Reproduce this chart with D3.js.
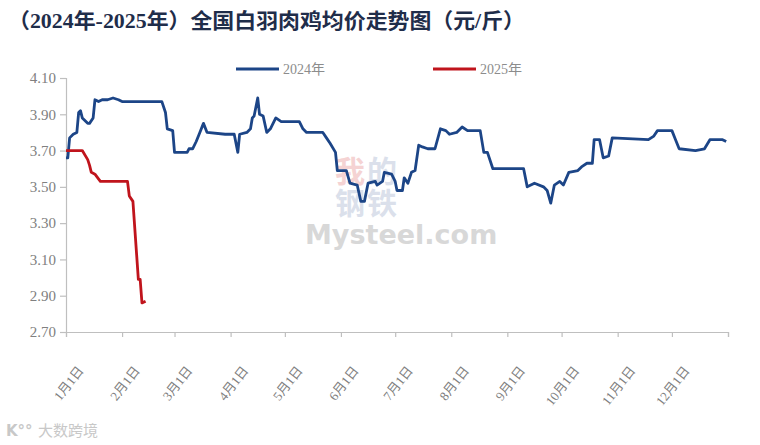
<!DOCTYPE html>
<html>
<head>
<meta charset="utf-8">
<script src="https://cdn.jsdelivr.net/npm/d3@7"></script>
<style>
body{margin:0;background:#fff;}
svg{display:block;}
</style>
</head>
<body>
<script>
// 2024 series, month-day + price (元/斤)
var days2024 = ['01-01','01-02','01-03','01-05','01-07','01-08','01-09','01-10','01-13','01-14','01-16','01-17','01-19','01-21','01-24','01-27','01-30',
	'02-01','02-23','02-25','02-26','02-29','03-01','03-08','03-09','03-11','03-13','03-15','03-17','03-19','03-29','04-03','04-05','04-06','04-10','04-12','04-13','04-14','04-16','04-17','04-19','04-21','04-23','04-26','04-29',
	'05-09','05-11','05-13','05-22','05-24','05-26','05-29','05-30','06-04','06-06','06-10','06-12','06-14','06-16','06-20','06-21','06-24','06-25','06-29',
	'07-01','07-02','07-05','07-06','07-08','07-10','07-12','07-14','07-16','07-19','07-23','07-26','07-29','07-31','08-04','08-07','08-10','08-17','08-19','08-21','08-24',
	'09-10','09-12','09-16','09-21','09-23','09-25','09-27','09-30','10-02','10-05','10-10','10-12','10-15','10-18','10-19','10-22','10-24','10-27','10-29',
	'11-18','11-21','11-23','12-01','12-03','12-05','12-14','12-19','12-22','12-29','12-31'];
var price2024 = [3.66,3.66,3.77,3.79,3.80,3.91,3.92,3.88,3.85,3.85,3.88,3.98,3.97,3.98,3.98,3.99,3.98,
	3.97,3.97,3.91,3.82,3.81,3.69,3.69,3.71,3.71,3.75,3.80,3.85,3.80,3.79,3.79,3.69,3.79,3.80,3.82,3.88,3.89,3.99,3.90,3.89,3.80,3.82,3.88,3.86,
	3.86,3.82,3.80,3.80,3.77,3.74,3.69,3.59,3.59,3.52,3.51,3.42,3.42,3.52,3.53,3.51,3.53,3.58,3.57,
	3.53,3.48,3.48,3.55,3.52,3.58,3.59,3.73,3.72,3.71,3.71,3.82,3.81,3.79,3.80,3.83,3.81,3.81,3.69,3.69,3.60,
	3.60,3.50,3.52,3.50,3.48,3.41,3.51,3.53,3.51,3.58,3.59,3.61,3.63,3.63,3.76,3.76,3.66,3.67,3.77,
	3.76,3.78,3.81,3.81,3.76,3.71,3.70,3.71,3.76,3.76,3.75];

// 2025 series
var days2025 = ['01-01','01-10','01-13','01-14','01-15','01-17','01-20','02-04','02-05','02-07','02-10','02-11','02-12','02-14'];
var price2025 = [3.70,3.70,3.65,3.62,3.58,3.57,3.53,3.53,3.45,3.42,2.99,2.99,2.86,2.87];

var yTicks = [2.70,2.90,3.10,3.30,3.50,3.70,3.90,4.10];
var seriesNames = ['2024年','2025年'];
var title = '（2024年-2025年）全国白羽肉鸡均价走势图（元/斤）';

var width = 760, height = 445;
var margin = {left:66, right:32, top:78, bottom:113};
var colors = ['#1c4587','#c0141c'];
var serif = '"Liberation Serif","Noto Sans CJK SC",serif';

var parseDay = d3.timeParse('%Y-%m-%d');
var toPoints = (days, vals) => days.map((d,i)=>({date: parseDay('2024-'+d), value: vals[i]}));
var series = [toPoints(days2024, price2024), toPoints(days2025, price2025)];

var x = d3.scaleTime()
	.domain([parseDay('2024-01-01'), parseDay('2025-01-01')])
	.range([margin.left, width - margin.right]);

var y = d3.scaleLinear()
	.domain([2.7, 4.1])
	.range([height - margin.bottom, margin.top]);

var svg = d3.select('body').append('svg').attr('width',width).attr('height',height);

// watermarks
var wm = svg.append('g').attr('opacity',0.3);
[['我',350,182,'#e07070'],['的',382,182,'#8a9cc0'],['钢',350,214,'#8a9cc0'],['铁',382,214,'#8a9cc0']].forEach(c=>{
	wm.append('text').attr('x',c[1]).attr('y',c[2]).attr('text-anchor','middle')
		.style('font-family',serif).style('font-size','30px').style('font-weight','bold')
		.attr('fill',c[3]).text(c[0]);
});
svg.append('text').attr('x',305).attr('y',244)
	.style('font-family','"DejaVu Sans",sans-serif').style('font-size','27px').style('font-weight','bold')
	.attr('fill','#d8d8d8').text('Mysteel.com');
svg.append('text').attr('x',38).attr('y',436)
	.style('font-family','"Noto Sans CJK SC",sans-serif').style('font-size','15px')
	.attr('fill','#c8c8c8').text('大数跨境');
svg.append('text').attr('x',6).attr('y',436)
	.style('font-family','"DejaVu Sans",sans-serif').style('font-size','15px').style('font-weight','bold')
	.attr('fill','#c8c8c8').text('K°°');

// title
svg.append('text').attr('x',8).attr('y',28)
	.attr('textLength',517).attr('lengthAdjust','spacingAndGlyphs')
	.style('font-family',serif).style('font-size','21px').style('font-weight','bold')
	.attr('fill','#1f2d4a').text(title);

// axes
var yAxis = svg.append('g').attr('transform',`translate(${margin.left},0)`)
	.call(d3.axisLeft(y).tickValues(yTicks).tickFormat(d3.format('.2f')).tickSize(6).tickPadding(4));
var xAxis = svg.append('g').attr('transform',`translate(0,${height - margin.bottom})`)
	.call(d3.axisBottom(x).ticks(d3.timeMonth.every(1)).tickSize(5)
		.tickFormat(d=>d.getFullYear()===2025 ? '' : (d.getMonth()+1)+'月1日'));
[yAxis,xAxis].forEach(a=>{
	a.select('.domain').attr('stroke','#bfbfbf').attr('stroke-width',1.2);
	a.selectAll('.tick line').attr('stroke','#bfbfbf').attr('stroke-width',1.2);
	a.selectAll('text').attr('fill','#808080').style('font-family',serif);
});
yAxis.selectAll('text').style('font-size','15px');
xAxis.selectAll('text').style('font-size','13px')
	.attr('text-anchor','end').attr('dy','0.35em')
	.attr('transform','translate(8,31) rotate(-52)');

// lines
var line = d3.line().x(d=>x(d.date)).y(d=>y(d.value));
svg.selectAll('path.series')
	.data(series)
	.enter().append('path')
		.attr('class','series')
		.attr('fill','none')
		.attr('stroke',(d,i)=>colors[i])
		.attr('stroke-width',2.8)
		.attr('stroke-linejoin','round')
		.attr('d',line);

// legend
var legendX = [236,433];
var legend = svg.selectAll('g.legend')
	.data(seriesNames)
	.enter().append('g')
		.attr('class','legend')
		.attr('transform',(d,i)=>`translate(${legendX[i]},69)`);
legend.append('line').attr('x1',0).attr('x2',43)
	.attr('stroke',(d,i)=>colors[i]).attr('stroke-width',2.8);
legend.append('text').attr('x',47).attr('dy','0.35em')
	.style('font-family',serif).style('font-size','14px')
	.attr('fill','#8c8c8c').text(d=>d);
</script>
</body>
</html>
